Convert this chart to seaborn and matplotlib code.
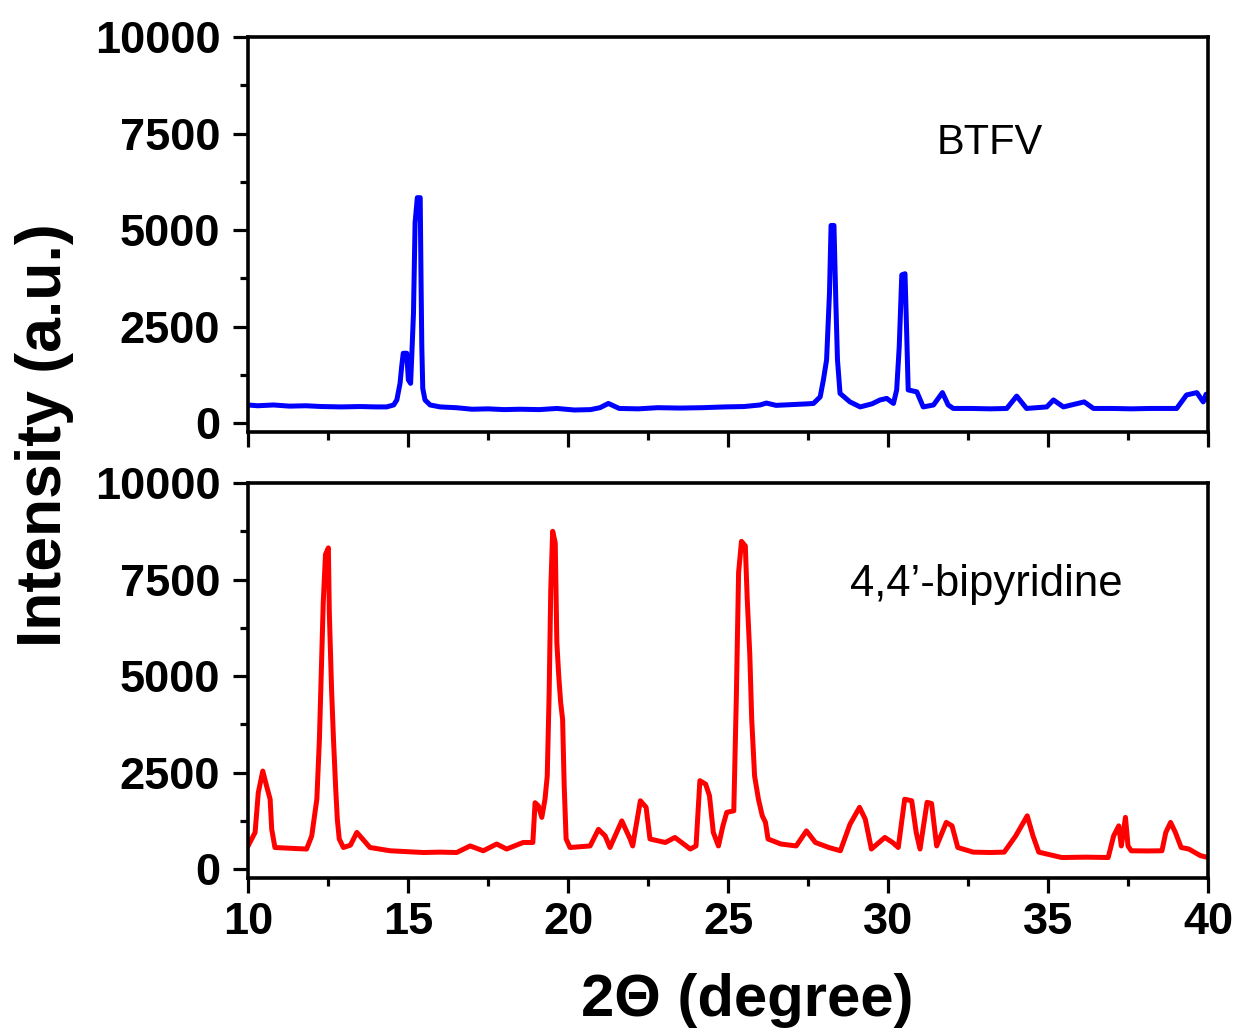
import matplotlib
matplotlib.use("Agg")
import matplotlib.pyplot as plt
import seaborn as sns
import pandas as pd
from matplotlib.ticker import MultipleLocator

# ---- XRD pattern of BTFV (2-theta in degrees, intensity in a.u.) ----
btfv_2theta = [
    10.0, 10.3, 10.8, 11.3, 11.8, 12.3, 12.9, 13.5, 14.0, 14.33,
    14.55, 14.65, 14.75, 14.80, 14.85, 14.96, 15.01, 15.08, 15.12, 15.17,
    15.22, 15.29, 15.38, 15.41, 15.43, 15.46, 15.53, 15.69, 16.0, 16.5,
    17.0, 17.5, 18.0, 18.5, 19.1, 19.65, 20.2, 20.7, 21.0, 21.26,
    21.6, 22.2, 22.8, 23.5, 24.2, 24.9, 25.5, 26.0, 26.2, 26.5,
    27.0, 27.5, 27.67, 27.88, 27.98, 28.08, 28.17, 28.22, 28.31, 28.37,
    28.42, 28.50, 28.81, 29.13, 29.5, 29.75, 29.96, 30.17, 30.27, 30.35,
    30.43, 30.53, 30.58, 30.63, 30.9, 31.1, 31.42, 31.7, 31.88, 32.04,
    32.6, 33.2, 33.71, 34.02, 34.33, 34.96, 35.17, 35.48, 36.13, 36.42,
    37.0, 37.6, 38.2, 38.7, 39.02, 39.33, 39.65, 39.85, 39.94, 40.0,
]
btfv_intensity = [
    470, 450, 470, 440, 450, 430, 420, 430, 420, 420,
    470, 600, 1030, 1460, 1810, 1810, 1120, 1030, 1810, 2850,
    5190, 5840, 5840, 3410, 1980, 900, 600, 470, 420, 400,
    360, 370, 350, 360, 350, 380, 340, 350, 400, 510,
    380, 370, 400, 390, 400, 420, 430, 470, 520, 460,
    480, 500, 510, 680, 1120, 1640, 3370, 5120, 5120, 3110,
    1640, 770, 550, 420, 500, 600, 640, 510, 860, 1980,
    3840, 3870, 2420, 860, 810, 420, 470, 790, 470, 380,
    380, 370, 380, 700, 380, 420, 600, 420, 550, 380,
    380, 370, 380, 380, 380, 730, 790, 550, 750, 600,
]

# ---- XRD pattern of 4,4'-bipyridine ----
bipy_2theta = [
    10.0, 10.22, 10.32, 10.46, 10.58, 10.69, 10.74, 10.84, 11.3, 11.83,
    11.99, 12.15, 12.23, 12.30, 12.35, 12.42, 12.51, 12.54, 12.61, 12.67,
    12.74, 12.79, 12.85, 12.98, 13.2, 13.40, 13.6, 13.81, 14.44, 15.0,
    15.48, 16.0, 16.52, 16.94, 17.35, 17.77, 18.08, 18.6, 18.9, 18.97,
    19.07, 19.18, 19.28, 19.35, 19.41, 19.46, 19.52, 19.60, 19.65, 19.71,
    19.77, 19.83, 19.88, 19.94, 20.06, 20.69, 20.95, 21.16, 21.31, 21.68,
    21.94, 22.02, 22.26, 22.44, 22.56, 23.04, 23.34, 23.82, 24.0, 24.12,
    24.30, 24.42, 24.54, 24.70, 24.84, 24.96, 25.18, 25.26, 25.33, 25.42,
    25.54, 25.60, 25.68, 25.74, 25.83, 25.95, 26.07, 26.17, 26.25, 26.65,
    27.13, 27.45, 27.73, 28.15, 28.51, 28.81, 29.11, 29.29, 29.48, 29.90,
    30.14, 30.32, 30.52, 30.74, 30.88, 31.0, 31.22, 31.36, 31.52, 31.82,
    32.0, 32.18, 32.66, 33.2, 33.63, 33.99, 34.35, 34.53, 34.71, 35.43,
    36.2, 36.88, 37.05, 37.21, 37.29, 37.42, 37.5, 37.6, 38.1, 38.56,
    38.68, 38.83, 38.98, 39.16, 39.4, 39.76, 40.0,
]
bipy_intensity = [
    600, 950, 1980, 2540, 2150, 1810, 1030, 560, 540, 520,
    860, 1810, 3360, 5430, 6900, 8150, 8320, 6640, 4660, 3360,
    2070, 1290, 780, 560, 620, 950, 760, 560, 475, 450,
    430, 440, 430, 600, 475, 650, 520, 690, 690, 1720,
    1640, 1340, 1810, 2410, 4570, 7240, 8750, 8450, 5870, 5000,
    4310, 3880, 2150, 780, 560, 600, 1030, 860, 560, 1250,
    780, 600, 1770, 1600, 780, 690, 820, 520, 600, 2290,
    2200, 1900, 950, 600, 1120, 1470, 1510, 4480, 7680, 8490,
    8370, 6990, 5560, 3880, 2410, 1810, 1380, 1210, 780, 650,
    600, 990, 690, 560, 475, 1160, 1600, 1290, 520, 820,
    690, 560, 1810, 1770, 950, 520, 1730, 1700, 600, 1210,
    1120, 560, 440, 430, 440, 860, 1380, 860, 440, 300,
    310, 300, 860, 1120, 600, 1340, 600, 475, 470, 475,
    950, 1210, 950, 560, 520, 350, 300,
]

sample_names = ["BTFV", "4,4\u2019-bipyridine"]
line_colors = ["#0000FF", "#FF0000"]
y_ticks = [0, 2500, 5000, 7500, 10000]
x_ticks = [10, 15, 20, 25, 30, 35, 40]

sns.set_theme(style="ticks")
plt.rcParams["font.family"] = ["Liberation Sans", "DejaVu Sans"]
plt.rcParams["font.weight"] = "bold"

fig = plt.figure(figsize=(12.39, 10.35), dpi=100)
ax_top = fig.add_axes([0.2002, 0.5826, 0.7748, 0.3816])
ax_bot = fig.add_axes([0.2002, 0.1517, 0.7748, 0.3816])

frames = [
    pd.DataFrame({"two_theta": btfv_2theta, "intensity": btfv_intensity}),
    pd.DataFrame({"two_theta": bipy_2theta, "intensity": bipy_intensity}),
]

for ax, df, color in zip([ax_top, ax_bot], frames, line_colors):
    sns.lineplot(data=df, x="two_theta", y="intensity", ax=ax, color=color,
                 lw=3.6, estimator=None, sort=False)
    ax.set_xlim(10, 40)
    ax.set_ylim(-230, 10000)
    ax.set_xticks(x_ticks)
    ax.set_yticks(y_ticks)
    ax.xaxis.set_minor_locator(MultipleLocator(2.5))
    ax.yaxis.set_minor_locator(MultipleLocator(1250))
    ax.tick_params(which="major", direction="out", length=11, width=2.3,
                   labelsize=32.5, color="black", labelcolor="black")
    ax.tick_params(axis="y", which="major", pad=9)
    ax.tick_params(axis="x", which="major", pad=6)
    ax.tick_params(which="minor", direction="out", length=6, width=2.3,
                   color="black")
    ax.tick_params(top=False, right=False, which="both")
    for side in ["left", "right", "top", "bottom"]:
        ax.spines[side].set_visible(True)
        ax.spines[side].set_linewidth(2.6)
        ax.spines[side].set_color("black")
    ax.set_xlabel("")
    ax.set_ylabel("")

ax_top.tick_params(labelbottom=False)

ax_top.text(33.19, 6960, sample_names[0], fontsize=30, fontweight="normal",
            ha="center", va="baseline", color="black")
ax_bot.text(33.06, 7070, sample_names[1], fontsize=31.5, fontweight="normal",
            ha="center", va="baseline", color="black")

fig.text(0.036, 0.58, "Intensity (a.u.)", rotation=90, fontsize=45,
         fontweight="bold", ha="center", va="center", color="black")
fig.text(0.603, 0.033, "2\u0398 (degree)", fontsize=43, fontweight="bold",
         ha="center", va="center", color="black")

fig.savefig("out.png", dpi=100)
